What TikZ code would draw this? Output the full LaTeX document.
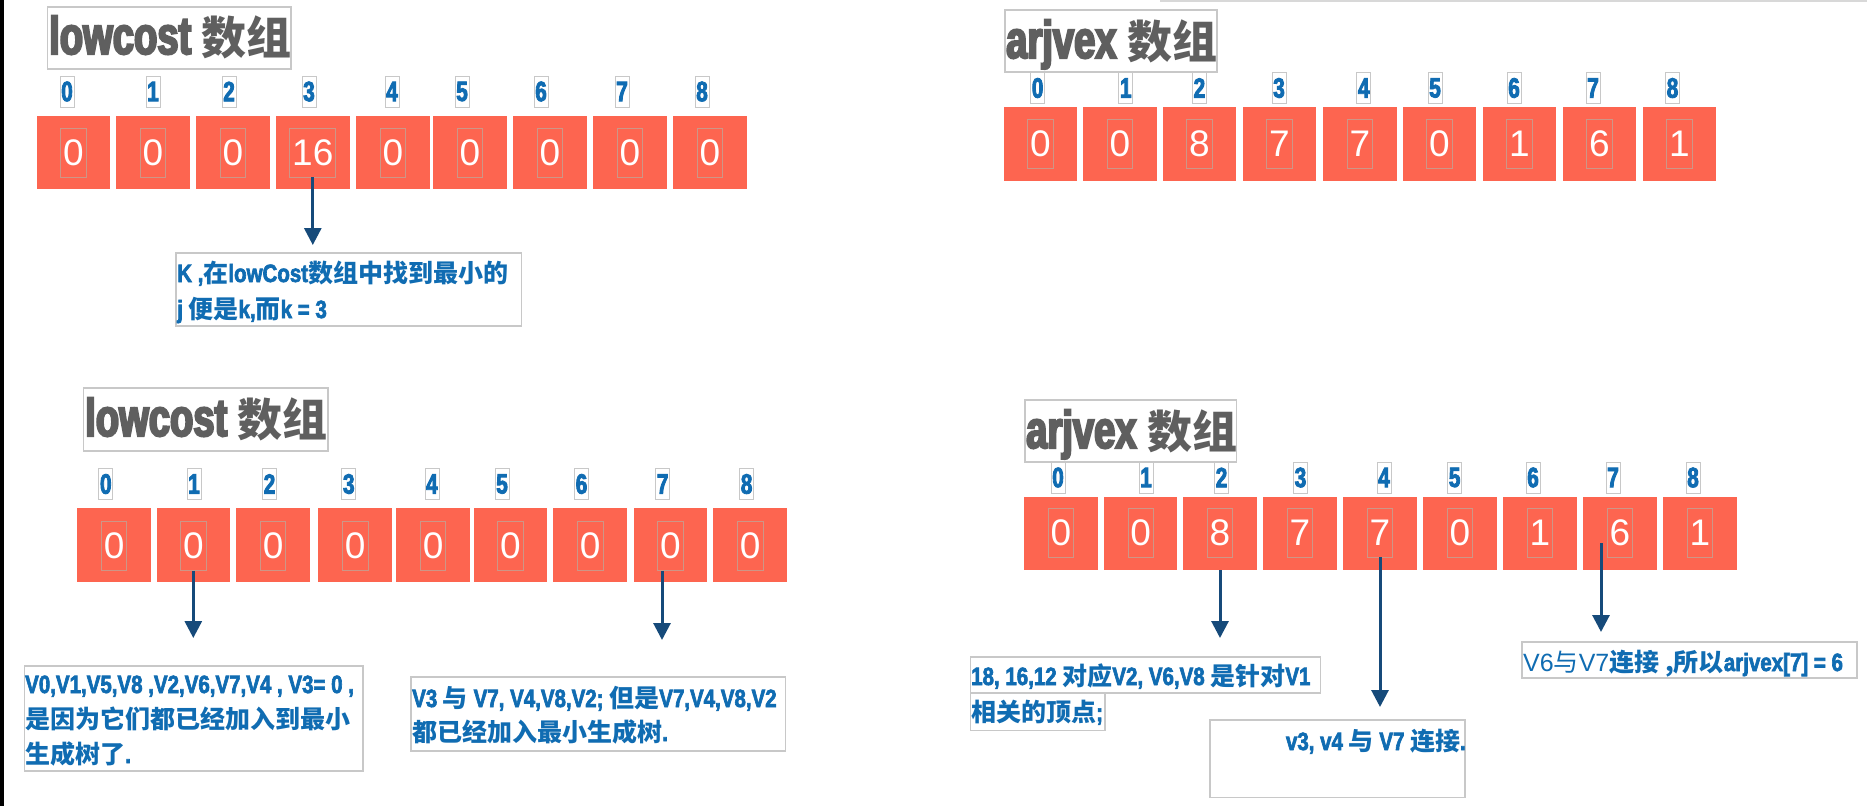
\documentclass[tikz,border=0pt]{standalone}
\usepackage{fontspec}
\usetikzlibrary{arrows.meta}
\setmainfont{Liberation Sans}
\newfontfamily\cjk{Noto Sans CJK SC}
\newfontfamily\impH{Liberation Sans}[FakeStretch=0.72,BoldFeatures={FakeBold=4}]
\newfontfamily\impT{Liberation Sans}[FakeStretch=0.74,BoldFeatures={FakeBold=3}]
\newfontfamily\imp{Liberation Sans}[FakeStretch=0.82,BoldFeatures={FakeBold=2.5}]
\newcommand\tL[1]{{\imp\bfseries #1}}
\newcommand\tC[1]{{\cjk\bfseries #1}}
\newcommand\tR[1]{{\cjk #1}}
\definecolor{coral}{RGB}{253,101,80}
\definecolor{inedge}{RGB}{205,150,135}
\definecolor{frame}{RGB}{200,200,200}
\definecolor{txtblue}{RGB}{16,108,178}
\definecolor{navy}{RGB}{22,74,122}
\definecolor{titlegray}{RGB}{95,95,95}
\definecolor{ybar}{RGB}{246,190,0}
\tikzset{
  cell/.style={fill=coral,minimum width=73.5pt,minimum height=73.5pt,inner sep=0pt},
  inbox/.style={draw=inedge,line width=0.8pt,minimum width=23pt,minimum height=49pt,inner xsep=2.5pt,inner ysep=0pt,text=white,font=\fontsize{37}{37}\selectfont},
  idx/.style={draw=frame,line width=0.8pt,minimum width=14pt,minimum height=31pt,inner sep=0pt,text=txtblue,font=\fontsize{28}{28}\selectfont\impT\bfseries},
  tframe/.style={draw=frame,line width=1.5pt,inner sep=0pt},
  ttext/.style={anchor=base west,inner sep=0pt,text=titlegray},
  nframe/.style={draw=frame,line width=1.2pt,inner sep=0pt},
  ntext/.style={anchor=base west,inner sep=0pt,text=txtblue,font=\fontsize{25}{25}\selectfont},
  arr/.style={draw=navy,line width=3pt,-{Triangle[width=17pt,length=17pt]}}
}
\begin{document}
\begin{tikzpicture}[x=1pt,y=-1pt]
\useasboundingbox (0,0) rectangle (1872,806);
\fill[white] (0,0) rectangle (1872,806);
% decorations
\fill[ybar] (0,0) rectangle (4,806);
\draw[frame!70,line width=1.5pt] (1160,1) -- (1867,1);

% ---------- titles
\node[tframe,minimum width=243.5pt,minimum height=62pt] (TA) at (169.25,38) {};
\node[ttext] (TAt) at (49,54) {\fontsize{53}{53}\selectfont\impH\bfseries lowcost {\cjk\bfseries\fontsize{45}{45}\selectfont 数组}};
\node[tframe,minimum width=212pt,minimum height=62pt] (TB) at (1111,41) {};
\node[ttext] (TBt) at (1006,58) {\fontsize{53}{53}\selectfont\impH\bfseries arjvex {\cjk\bfseries\fontsize{45}{45}\selectfont 数组}};
\node[tframe,minimum width=244.5pt,minimum height=63pt] (TC) at (205.8,419.5) {};
\node[ttext] (TCt) at (85,436) {\fontsize{53}{53}\selectfont\impH\bfseries lowcost {\cjk\bfseries\fontsize{45}{45}\selectfont 数组}};
\node[tframe,minimum width=211.5pt,minimum height=62pt] (TD) at (1130.75,431) {};
\node[ttext] (TDt) at (1026,448) {\fontsize{53}{53}\selectfont\impH\bfseries arjvex {\cjk\bfseries\fontsize{45}{45}\selectfont 数组}};

% ---------- rows
\foreach \i/\cx/\lx/\v in {0/73.5/67/0,1/152.8/153/0,2/232.8/229/0,3/312.8/309/16,4/392.8/392/0,5/469.8/462/0,6/549.8/541/0,7/629.8/622/0,8/709.8/702/0}{
  \node[cell] (A\i) at (\cx,152.5) {};
  \node[inbox] (Ai\i) at (\cx,152.5) {\v};
  \node[idx] (Al\i) at (\lx,91.5) {\i};
}
\foreach \i/\cx/\lx/\v in {0/1040.4/1037.6/0,1/1119.8/1125.8/0,2/1199.4/1199.4/8,3/1279.4/1279/7,4/1359.8/1363.8/7,5/1439.3/1435/0,6/1519.3/1514/1,7/1599.3/1593/6,8/1679.3/1672.5/1}{
  \node[cell] (B\i) at (\cx,144) {};
  \node[inbox] (Bi\i) at (\cx,143.5) {\v};
  \node[idx] (Bl\i) at (\lx,88) {\i};
}
\foreach \i/\cx/\lx/\v in {0/114.1/105.8/0,1/193.3/194/0,2/273.1/269.5/0,3/355.2/348.8/0,4/433.1/431.9/0,5/510.5/502/0,6/590.2/581.5/0,7/670.4/662.6/0,8/750.2/746.6/0}{
  \node[cell] (C\i) at (\cx,545) {};
  \node[inbox] (Ci\i) at (\cx,546) {\v};
  \node[idx] (Cl\i) at (\lx,484) {\i};
}
\foreach \i/\cx/\lx/\v in {0/1061/1058/0,1/1140.7/1146/0,2/1220/1221.5/8,3/1300/1300.5/7,4/1380/1384/7,5/1460/1454.6/0,6/1540/1533/1,7/1620/1613/6,8/1700/1693/1}{
  \node[cell] (D\i) at (\cx,533.5) {};
  \node[inbox] (Di\i) at (\cx,532.5) {\v};
  \node[idx] (Dl\i) at (\lx,477.5) {\i};
}

% ---------- note frames
\node[nframe,minimum width=345.5pt,minimum height=73pt] (NA) at (348.75,289.5) {};
\node[nframe,minimum width=338.5pt,minimum height=105pt] (NC1) at (193.75,718.5) {};
\node[nframe,minimum width=374.7pt,minimum height=74pt] (NC2) at (598.35,714) {};
\node[nframe,minimum width=350.1pt,minimum height=36pt] (ND1) at (1145.55,675) {};
\node[nframe,minimum width=134.5pt,minimum height=37.7pt] (ND1b) at (1037.75,711.85) {};
\node[nframe,minimum width=255pt,minimum height=77.7pt] (ND2) at (1337.5,758.85) {};
\node[nframe,minimum width=335pt,minimum height=36pt] (ND3) at (1689.5,660) {};

% ---------- note texts
\node[ntext] (NAa) at (177,282) {\tL{K ,}\tC{在}\tL{lowCost}\tC{数组中找到最小的}};
\node[ntext] (NAb) at (177,318) {\tL{j }\tC{便是}\tL{k,}\tC{而}\tL{k = 3}};
\node[ntext] (NC1a) at (25,693) {\tL{V0,V1,V5,V8 ,V2,V6,V7,V4 , V3= 0 ,}};
\node[ntext] (NC1b) at (25,728) {\tC{是因为它们都已经加入到最小}};
\node[ntext] (NC1c) at (25,763) {\tC{生成树了}\tL{.}};
\node[ntext] (NC2a) at (412,707) {\tL{V3 }\tC{与}\tL{ V7, V4,V8,V2; }\tC{但是}\tL{V7,V4,V8,V2}};
\node[ntext] (NC2b) at (412,741) {\tC{都已经加入最小生成树}\tL{.}};
\node[ntext] (ND1t) at (971,685) {\tL{18, 16,12 }\tC{对应}\tL{V2, V6,V8 }\tC{是针对}\tL{V1}};
\node[ntext] (ND1bt) at (971,721) {\tC{相关的顶点}\tL{;}};
\node[ntext,anchor=base east] (ND2t) at (1466,750) {\tL{v3, v4 }\tC{与}\tL{ V7 }\tC{连接}\tL{.}};
\node[ntext] (ND3t) at (1523,671) {V6\tR{与}V7\tC{连接 ,所以}\tL{arjvex[7] = 6}};

% ---------- arrows
\coordinate (tA) at (312.8,245);
\draw[arr] (Ai3.south) -- (tA);
\coordinate (tC1) at (193.3,638);
\draw[arr] (Ci1.south) -- (tC1);
\coordinate (tC7) at (662,640);
\draw[arr] (Ci7.south west -| tC7) -- (tC7);
\coordinate (tD2) at (1220,638);
\draw[arr] (D2.south) -- (tD2);
\coordinate (tD4) at (1380,707);
\draw[arr] (Di4.south) -- (tD4);
\coordinate (sD7) at (1601,543);
\coordinate (tD7) at (1601,632);
\draw[arr] (sD7) -- (tD7);
\end{tikzpicture}
\end{document}
